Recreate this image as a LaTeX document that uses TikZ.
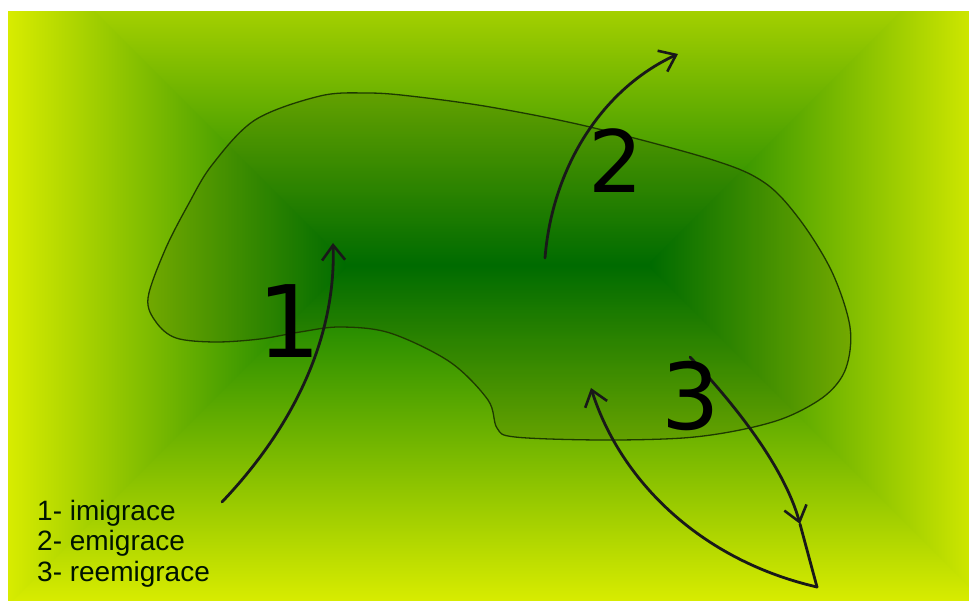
\documentclass[tikz,border=0pt]{standalone}
\usepackage{fontspec}
\setmainfont{Liberation Sans}
\newfontfamily\digitfont{DejaVu Sans}
\usetikzlibrary{arrows.meta}
\definecolor{gyellow}{HTML}{D8EC00}
\definecolor{ggreen}{HTML}{007800}
\definecolor{blobline}{HTML}{1E3A00}
\tikzset{
  flow/.style={line width=2.8pt, draw=black!90, line cap=round},
  tipbarb/.style={-{Straight Barb[length=15pt,width=23pt,line width=2.6pt]}},
  bignum/.style={inner sep=0pt, anchor=base, text=black},
  legend/.style={inner sep=0pt, anchor=base west, font=\fontsize{28}{32}\selectfont, text=black!92!green},
  blob/.style={draw=blobline, line width=1.3pt, fill=black, fill opacity=0.1},
}
\begin{document}
\begin{tikzpicture}[x=1pt,y=-1pt]
\useasboundingbox (0,0) rectangle (969,601);
% background: rectangular gradient
\begin{scope}
\clip (8,12) rectangle (969,601);
\begin{scope}
\clip (345,265)--(650,265)--(1050,-135)--(-55,-135)--cycle;
\shade[top color=gyellow,bottom color=ggreen] (0,-71) rectangle (969,265);
\end{scope}
\begin{scope}
\clip (345,265)--(650,265)--(1050,665)--(-55,665)--cycle;
\shade[top color=ggreen,bottom color=gyellow] (0,265) rectangle (969,601);
\end{scope}
\begin{scope}
\clip (348,265)--(-52,-135)--(-52,665)--cycle;
\shade[left color=gyellow,right color=ggreen] (8,0) rectangle (345,601);
\end{scope}
\begin{scope}
\clip (647,265)--(1047,-135)--(1047,665)--cycle;
\shade[left color=ggreen,right color=gyellow] (650,0) rectangle (986,601);
\end{scope}
\end{scope}
% blob (territory)
\path[blob] plot[smooth cycle, tension=0.55] coordinates {
 (148,298) (165,250) (188,205) (212,165) (255,120) (320,96) (367,93) (410,96)
 (490,107) (590,127) (713,160) (765,183) (800,220) (832,272) (850,327)
 (846,368) (826,395) (787,417) (740,430) (683,438) (600,440) (515,437)
 (497,428) (488,400) (450,362) (390,333) (340,327) (300,332) (260,339)
 (215,342) (176,338) (156,322)};
% endpoints
\coordinate (s1) at (222,502);
\coordinate (e1) at (333,243);
\coordinate (s2) at (545,258);
\coordinate (e2) at (678,54);
\coordinate (b3) at (817,587);
\coordinate (e3) at (591,388);
\coordinate (s3) at (690,357);
\coordinate (m3) at (800,524);
% arrows
\draw[flow,tipbarb] (s1) .. controls (300,420) and (336,330) .. (e1);
\draw[flow,tipbarb] (s2) .. controls (552,170) and (600,90) .. (e2);
\draw[flow,tipbarb] (b3) .. controls (700,560) and (620,480) .. (e3);
\draw[flow,tipbarb] (s3) .. controls (740,410) and (785,470) .. (m3);
\draw[flow] (m3) -- (b3);
% big numbers
\node[bignum, font=\digitfont\fontsize{100}{100}\selectfont] (n1) at (289,358) {1};
\node[bignum, font=\digitfont\fontsize{86}{86}\selectfont] (n2) at (616,193) {2};
\node[bignum, font=\digitfont\fontsize{92}{92}\selectfont] (n3) at (691,429) {3};
% legend
\node[legend] (l1) at (37,520) {1- imigrace};
\node[legend] (l2) at (37,550) {2- emigrace};
\node[legend] (l3) at (37,581) {3- reemigrace};
\end{tikzpicture}
\end{document}
